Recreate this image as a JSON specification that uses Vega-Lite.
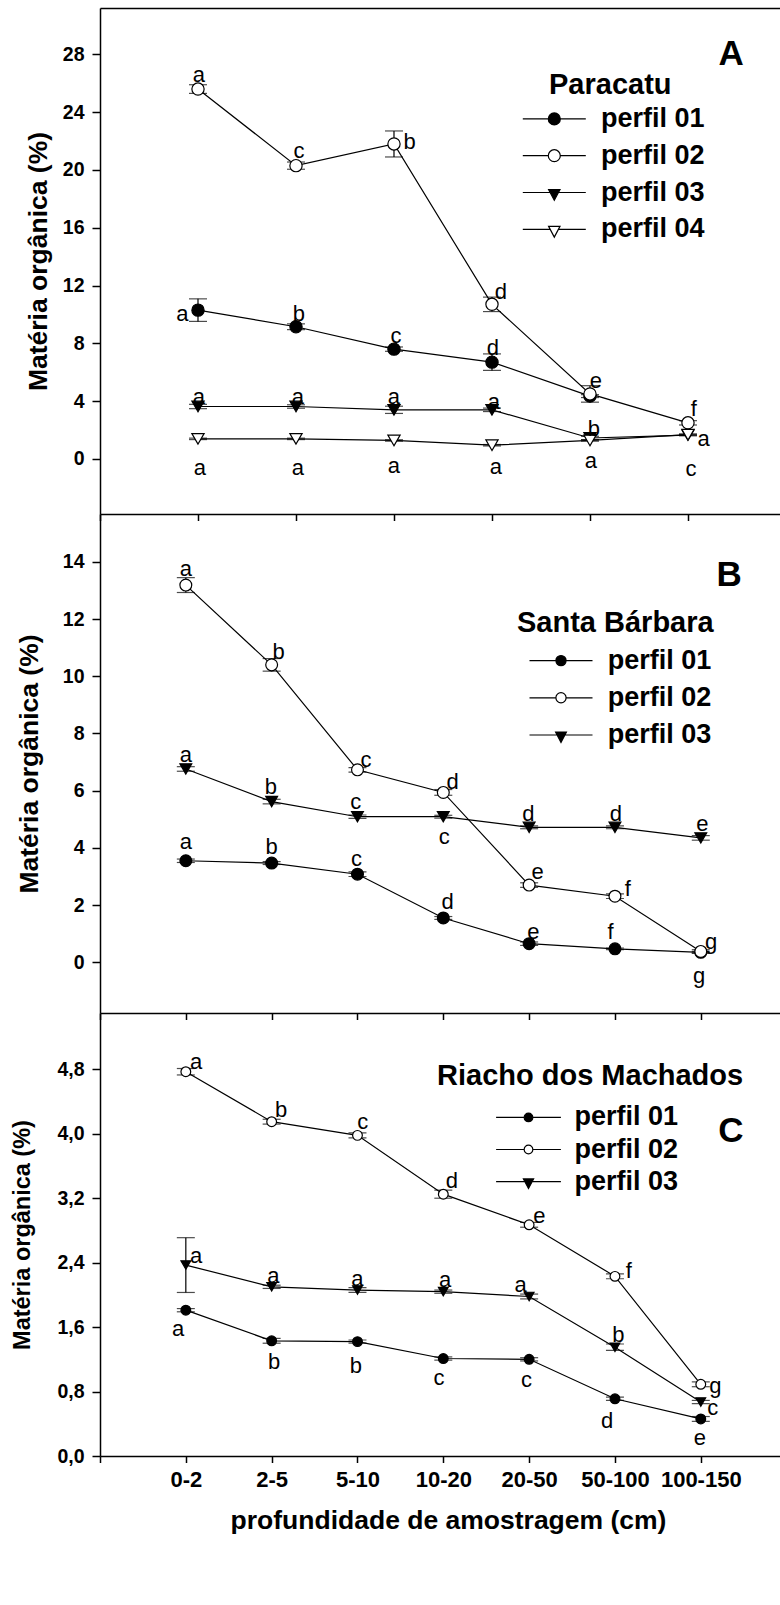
{
  "$schema": "https://vega.github.io/schema/vega-lite/v6.json",
  "background": "white",
  "padding": {"left": 10, "top": 8, "right": 0, "bottom": 0},
  "bounds": "flush",
  "spacing": 0,
  "datasets": {
    "A": [
      {"x": 1, "v": 10.3, "e": 0.78, "s": "perfil 01"},
      {"x": 2, "v": 9.15, "e": 0.2, "s": "perfil 01"},
      {"x": 3, "v": 7.6, "e": 0.15, "s": "perfil 01"},
      {"x": 4, "v": 6.7, "e": 0.57, "s": "perfil 01"},
      {"x": 5, "v": 4.35, "e": 0.1, "s": "perfil 01"},
      {"x": 1, "v": 25.6, "e": 0.3, "s": "perfil 02"},
      {"x": 2, "v": 20.3, "e": 0.25, "s": "perfil 02"},
      {"x": 3, "v": 21.8, "e": 0.9, "s": "perfil 02"},
      {"x": 4, "v": 10.7, "e": 0.5, "s": "perfil 02"},
      {"x": 5, "v": 4.5, "e": 0.57, "s": "perfil 02"},
      {"x": 6, "v": 2.5, "e": 0.15, "s": "perfil 02"},
      {"x": 1, "v": 3.63, "e": 0.15, "s": "perfil 03"},
      {"x": 2, "v": 3.63, "e": 0.12, "s": "perfil 03"},
      {"x": 3, "v": 3.4, "e": 0.25, "s": "perfil 03"},
      {"x": 4, "v": 3.4, "e": 0.12, "s": "perfil 03"},
      {"x": 5, "v": 1.45, "e": 0.12, "s": "perfil 03"},
      {"x": 6, "v": 1.65, "e": 0.05, "s": "perfil 03"},
      {"x": 1, "v": 1.39, "e": 0.05, "s": "perfil 04"},
      {"x": 2, "v": 1.39, "e": 0.05, "s": "perfil 04"},
      {"x": 3, "v": 1.28, "e": 0.05, "s": "perfil 04"},
      {"x": 4, "v": 0.95, "e": 0.05, "s": "perfil 04"},
      {"x": 5, "v": 1.28, "e": 0.05, "s": "perfil 04"},
      {"x": 6, "v": 1.68, "e": 0.05, "s": "perfil 04"}
    ],
    "B": [
      {"x": 1, "v": 3.55, "e": 0.06, "s": "perfil 01"},
      {"x": 2, "v": 3.47, "e": 0.05, "s": "perfil 01"},
      {"x": 3, "v": 3.08, "e": 0.08, "s": "perfil 01"},
      {"x": 4, "v": 1.55, "e": 0.05, "s": "perfil 01"},
      {"x": 5, "v": 0.65, "e": 0.06, "s": "perfil 01"},
      {"x": 6, "v": 0.47, "e": 0.03, "s": "perfil 01"},
      {"x": 7, "v": 0.35, "e": 0.03, "s": "perfil 01"},
      {"x": 1, "v": 13.19, "e": 0.26, "s": "perfil 02"},
      {"x": 2, "v": 10.4, "e": 0.22, "s": "perfil 02"},
      {"x": 3, "v": 6.73, "e": 0.08, "s": "perfil 02"},
      {"x": 4, "v": 5.94, "e": 0.1, "s": "perfil 02"},
      {"x": 5, "v": 2.7, "e": 0.08, "s": "perfil 02"},
      {"x": 6, "v": 2.31, "e": 0.08, "s": "perfil 02"},
      {"x": 7, "v": 0.38, "e": 0.06, "s": "perfil 02"},
      {"x": 1, "v": 6.76, "e": 0.08, "s": "perfil 03"},
      {"x": 2, "v": 5.62, "e": 0.08, "s": "perfil 03"},
      {"x": 3, "v": 5.09, "e": 0.06, "s": "perfil 03"},
      {"x": 4, "v": 5.09, "e": 0.05, "s": "perfil 03"},
      {"x": 5, "v": 4.72, "e": 0.05, "s": "perfil 03"},
      {"x": 6, "v": 4.72, "e": 0.05, "s": "perfil 03"},
      {"x": 7, "v": 4.35, "e": 0.08, "s": "perfil 03"}
    ],
    "C": [
      {"x": 1, "v": 1.81, "e": 0.02, "s": "perfil 01"},
      {"x": 2, "v": 1.43, "e": 0.03, "s": "perfil 01"},
      {"x": 3, "v": 1.42, "e": 0.02, "s": "perfil 01"},
      {"x": 4, "v": 1.21, "e": 0.02, "s": "perfil 01"},
      {"x": 5, "v": 1.2, "e": 0.02, "s": "perfil 01"},
      {"x": 6, "v": 0.71, "e": 0.02, "s": "perfil 01"},
      {"x": 7, "v": 0.46, "e": 0.03, "s": "perfil 01"},
      {"x": 1, "v": 4.77, "e": 0.04, "s": "perfil 02"},
      {"x": 2, "v": 4.15, "e": 0.03, "s": "perfil 02"},
      {"x": 3, "v": 3.98, "e": 0.03, "s": "perfil 02"},
      {"x": 4, "v": 3.25, "e": 0.05, "s": "perfil 02"},
      {"x": 5, "v": 2.87, "e": 0.03, "s": "perfil 02"},
      {"x": 6, "v": 2.23, "e": 0.03, "s": "perfil 02"},
      {"x": 7, "v": 0.89, "e": 0.03, "s": "perfil 02"},
      {"x": 1, "v": 2.37, "e": 0.34, "s": "perfil 03"},
      {"x": 2, "v": 2.1, "e": 0.02, "s": "perfil 03"},
      {"x": 3, "v": 2.06, "e": 0.03, "s": "perfil 03"},
      {"x": 4, "v": 2.04, "e": 0.02, "s": "perfil 03"},
      {"x": 5, "v": 1.98, "e": 0.03, "s": "perfil 03"},
      {"x": 6, "v": 1.35, "e": 0.04, "s": "perfil 03"},
      {"x": 7, "v": 0.67, "e": 0.02, "s": "perfil 03"}
    ],
    "LA": [
      {"x": 1.01, "v": 26.57, "t": "a"}, {"x": 2.03, "v": 21.31, "t": "c"}, {"x": 3.16, "v": 21.94, "t": "b"},
      {"x": 4.09, "v": 11.56, "t": "d"}, {"x": 5.06, "v": 5.4, "t": "e"}, {"x": 6.06, "v": 3.46, "t": "f"},
      {"x": 0.84, "v": 10.03, "t": "a"}, {"x": 2.03, "v": 10.03, "t": "b"}, {"x": 3.02, "v": 8.51, "t": "c"},
      {"x": 4.01, "v": 7.68, "t": "d"},
      {"x": 1.01, "v": 4.29, "t": "a"}, {"x": 2.02, "v": 4.29, "t": "a"}, {"x": 3.0, "v": 4.29, "t": "a"},
      {"x": 4.02, "v": 3.94, "t": "a"}, {"x": 5.04, "v": 2.08, "t": "b"}, {"x": 6.16, "v": 1.38, "t": "a"},
      {"x": 1.02, "v": -0.62, "t": "a"}, {"x": 2.02, "v": -0.62, "t": "a"}, {"x": 3.0, "v": -0.48, "t": "a"},
      {"x": 4.04, "v": -0.55, "t": "a"}, {"x": 5.01, "v": -0.14, "t": "a"}, {"x": 6.03, "v": -0.69, "t": "c"}
    ],
    "LB": [
      {"x": 1.0, "v": 13.75, "t": "a"}, {"x": 2.08, "v": 10.85, "t": "b"}, {"x": 3.1, "v": 7.08, "t": "c"},
      {"x": 4.11, "v": 6.3, "t": "d"}, {"x": 5.1, "v": 3.16, "t": "e"}, {"x": 6.15, "v": 2.56, "t": "f"},
      {"x": 7.12, "v": 0.71, "t": "g"},
      {"x": 1.0, "v": 7.25, "t": "a"}, {"x": 1.99, "v": 6.13, "t": "b"}, {"x": 2.98, "v": 5.6, "t": "c"},
      {"x": 4.01, "v": 4.38, "t": "c"}, {"x": 4.99, "v": 5.19, "t": "d"}, {"x": 6.01, "v": 5.19, "t": "d"},
      {"x": 7.02, "v": 4.84, "t": "e"},
      {"x": 1.0, "v": 4.21, "t": "a"}, {"x": 2.0, "v": 4.03, "t": "b"}, {"x": 2.99, "v": 3.62, "t": "c"},
      {"x": 4.05, "v": 2.11, "t": "d"}, {"x": 5.05, "v": 1.06, "t": "e"}, {"x": 5.95, "v": 1.06, "t": "f"},
      {"x": 6.98, "v": -0.48, "t": "g"}
    ],
    "LC": [
      {"x": 1.12, "v": 4.89, "t": "a"}, {"x": 2.11, "v": 4.29, "t": "b"}, {"x": 3.06, "v": 4.14, "t": "c"},
      {"x": 4.1, "v": 3.41, "t": "d"}, {"x": 5.12, "v": 2.98, "t": "e"}, {"x": 6.16, "v": 2.3, "t": "f"},
      {"x": 7.17, "v": 0.87, "t": "g"},
      {"x": 1.12, "v": 2.48, "t": "a"}, {"x": 2.02, "v": 2.23, "t": "a"}, {"x": 3.0, "v": 2.2, "t": "a"},
      {"x": 4.02, "v": 2.18, "t": "a"}, {"x": 4.9, "v": 2.12, "t": "a"}, {"x": 6.04, "v": 1.5, "t": "b"},
      {"x": 7.14, "v": 0.6, "t": "c"},
      {"x": 0.91, "v": 1.58, "t": "a"}, {"x": 2.03, "v": 1.17, "t": "b"}, {"x": 2.98, "v": 1.12, "t": "b"},
      {"x": 3.95, "v": 0.97, "t": "c"}, {"x": 4.97, "v": 0.94, "t": "c"}, {"x": 5.91, "v": 0.43, "t": "d"},
      {"x": 6.99, "v": 0.22, "t": "e"}
    ],
    "KA": [{"x": 6.44, "v": 28.03, "t": "A"}],
    "KB": [{"x": 7.33, "v": 13.54, "t": "B"}],
    "KC": [{"x": 7.35, "v": 4.03, "t": "C"}]
  },
  "vconcat": [
    {
      "width": 680,
      "height": 506,
      "encoding": {
        "y": {"field": "v", "type": "quantitative",
              "scale": {"domain": [-3.81, 31.21], "nice": false, "zero": false},
              "axis": {"values": [0, 4, 8, 12, 16, 20, 24, 28], "title": "Matéria orgânica (%)", "titleX": -47.3, "titleAngle": 270, "titleBaseline": "bottom", "titleFontSize": 26.5, "labelFontSize": 19.5, "tickSize": 8, "labelPadding": 8}}
      },
      "layer": [
        {
          "encoding": {
            "x": {"field": "x", "type": "quantitative",
                  "scale": {"domain": [0, 6.939], "nice": false, "zero": false},
                  "axis": {"orient": "bottom", "values": [0, 1, 2, 3, 4, 5, 6], "labels": false, "title": null, "tickSize": 6.5}}
          },
          "layer": [
            {"data": {"name": "A"},
             "mark": {"type": "errorbar", "color": "black", "ticks": {"size": 18, "thickness": 1.2}, "rule": {"strokeWidth": 1.2}},
             "encoding": {"yError": {"field": "e"}}},
            {"data": {"name": "A"},
             "mark": {"type": "line", "color": "black", "strokeWidth": 1.2},
             "encoding": {"detail": {"field": "s", "type": "nominal"}}},
            {"data": {"name": "A"},
             "mark": {"type": "point", "filled": true, "size": 150, "stroke": "black", "strokeWidth": 1.2, "opacity": 1},
             "encoding": {
               "shape": {"field": "s", "type": "nominal", "scale": {"domain": ["perfil 01", "perfil 02", "perfil 03", "perfil 04"], "range": ["circle", "circle", "triangle-down", "triangle-down"]}, "legend": null},
               "fill": {"field": "s", "type": "nominal", "scale": {"domain": ["perfil 01", "perfil 02", "perfil 03", "perfil 04"], "range": ["black", "white", "black", "white"]}, "legend": null}
             }},
            {"data": {"values": []},
             "mark": {"type": "point", "filled": true, "stroke": "black", "strokeWidth": 1.2, "opacity": 1},
             "encoding": {
               "shape": {"field": "s", "type": "nominal", "scale": {"domain": ["perfil 01", "perfil 02", "perfil 03", "perfil 04"],
                          "range": ["M-5.25,0L-1,0M1,0L5.25,0M-1,0A1,1,0,1,1,1,0A1,1,0,1,1,-1,0Z", "M-5.25,0L-1,0M1,0L5.25,0M-1,0A1,1,0,1,1,1,0A1,1,0,1,1,-1,0Z", "M-5.25,0L-0.69,0M0.69,0L5.25,0M-0.95,-0.5L0.95,-0.5L0,1.3Z", "M-5.25,0L-0.69,0M0.69,0L5.25,0M-0.95,-0.5L0.95,-0.5L0,1.3Z"]},
                         "legend": {"title": "Paracatu", "orient": "none", "legendX": 449, "legendY": 62.9, "titleAnchor": "start", "titlePadding": 5.5, "rowPadding": 8.8, "labelOffset": 33.2, "symbolOffset": -8.2, "symbolSize": 144, "symbolStrokeWidth": 1.2}},
               "fill": {"field": "s", "type": "nominal", "scale": {"domain": ["perfil 01", "perfil 02", "perfil 03", "perfil 04"], "range": ["black", "white", "black", "white"]},
                        "legend": {"title": "Paracatu", "orient": "none", "legendX": 449, "legendY": 62.9, "titleAnchor": "start", "titlePadding": 5.5, "rowPadding": 8.8, "labelOffset": 33.2, "symbolOffset": -8.2, "symbolSize": 144, "symbolStrokeWidth": 1.2}}
             }},
            {"data": {"name": "LA"},
             "mark": {"type": "text", "fontSize": 22, "align": "center", "baseline": "middle", "color": "black"},
             "encoding": {"text": {"field": "t"}}}
          ],
          "resolve": {"scale": {"shape": "independent", "fill": "independent"}}
        },
        {
          "data": {"name": "KA"},
          "mark": {"type": "text", "fontSize": 35, "fontWeight": "bold", "align": "center", "baseline": "middle", "color": "black"},
          "encoding": {
            "x": {"field": "x", "type": "quantitative", "scale": {"domain": [0, 6.939], "nice": false, "zero": false},
                  "axis": {"orient": "top", "labels": false, "ticks": false, "title": null, "domain": true}},
            "text": {"field": "t"}
          }
        }
      ],
      "resolve": {"scale": {"x": "independent"}}
    },
    {
      "width": 680,
      "height": 499,
      "encoding": {
        "x": {"field": "x", "type": "quantitative",
              "scale": {"domain": [0, 7.923], "nice": false, "zero": false},
              "axis": {"orient": "bottom", "values": [0, 1, 2, 3, 4, 5, 6, 7], "labels": false, "title": null, "tickSize": 6.5}},
        "y": {"field": "v", "type": "quantitative",
              "scale": {"domain": [-1.773, 15.675], "nice": false, "zero": false},
              "axis": {"values": [0, 2, 4, 6, 8, 10, 12, 14], "title": "Matéria orgânica (%)", "titleX": -57, "titleAngle": 270, "titleBaseline": "bottom", "titleFontSize": 26.5, "labelFontSize": 19.5, "tickSize": 8, "labelPadding": 8}}
      },
      "layer": [
        {"data": {"name": "B"},
         "mark": {"type": "errorbar", "color": "black", "ticks": {"size": 18, "thickness": 1.2}, "rule": {"strokeWidth": 1.2}},
         "encoding": {"yError": {"field": "e"}}},
        {"data": {"name": "B"},
         "mark": {"type": "line", "color": "black", "strokeWidth": 1.2},
         "encoding": {"detail": {"field": "s", "type": "nominal"}}},
        {"data": {"name": "B"},
         "mark": {"type": "point", "filled": true, "size": 140, "stroke": "black", "strokeWidth": 1.2, "opacity": 1},
         "encoding": {
           "shape": {"field": "s", "type": "nominal", "scale": {"domain": ["perfil 01", "perfil 02", "perfil 03"], "range": ["circle", "circle", "triangle-down"]}, "legend": null},
           "fill": {"field": "s", "type": "nominal", "scale": {"domain": ["perfil 01", "perfil 02", "perfil 03"], "range": ["black", "white", "black"]}, "legend": null}
         }},
        {"data": {"values": []},
         "mark": {"type": "point", "filled": true, "stroke": "black", "strokeWidth": 1.2, "opacity": 1},
         "encoding": {
           "shape": {"field": "s", "type": "nominal", "scale": {"domain": ["perfil 01", "perfil 02", "perfil 03"],
                      "range": ["M-5.25,0L-0.85,0M0.85,0L5.25,0M-0.85,0A0.85,0.85,0,1,1,0.85,0A0.85,0.85,0,1,1,-0.85,0Z", "M-5.25,0L-0.85,0M0.85,0L5.25,0M-0.85,0A0.85,0.85,0,1,1,0.85,0A0.85,0.85,0,1,1,-0.85,0Z", "M-5.25,0L-0.65,0M0.65,0L5.25,0M-0.9,-0.5L0.9,-0.5L0,1.25Z"]},
                     "legend": {"title": "Santa Bárbara", "orient": "none", "legendX": 417, "legendY": 94.6, "titleAnchor": "start", "titlePadding": 9.5, "rowPadding": 9.2, "labelOffset": 33.2, "symbolOffset": 30.5, "symbolSize": 144, "symbolStrokeWidth": 1.2}},
           "fill": {"field": "s", "type": "nominal", "scale": {"domain": ["perfil 01", "perfil 02", "perfil 03"], "range": ["black", "white", "black"]},
                    "legend": {"title": "Santa Bárbara", "orient": "none", "legendX": 417, "legendY": 94.6, "titleAnchor": "start", "titlePadding": 9.5, "rowPadding": 9.2, "labelOffset": 33.2, "symbolOffset": 30.5, "symbolSize": 144, "symbolStrokeWidth": 1.2}}
         }},
        {"data": {"name": "LB"},
         "mark": {"type": "text", "fontSize": 22, "align": "center", "baseline": "middle", "color": "black"},
         "encoding": {"text": {"field": "t"}}},
        {"data": {"name": "KB"},
         "mark": {"type": "text", "fontSize": 35, "fontWeight": "bold", "align": "center", "baseline": "middle", "color": "black"},
         "encoding": {"text": {"field": "t"}}}
      ],
      "resolve": {"scale": {"shape": "independent", "fill": "independent"}}
    },
    {
      "width": 680,
      "height": 443,
      "encoding": {
        "x": {"field": "x", "type": "quantitative",
              "scale": {"domain": [0, 7.923], "nice": false, "zero": false},
              "axis": {"orient": "bottom", "values": [0, 1, 2, 3, 4, 5, 6, 7],
                       "labelExpr": "['', '0-2', '2-5', '5-10', '10-20', '20-50', '50-100', '100-150'][datum.value]",
                       "title": "profundidade de amostragem (cm)", "titleX": 348, "titleY": 51.4, "titleAlign": "center", "titleBaseline": "top",
                       "titleFontSize": 26.5, "labelFontSize": 22, "tickSize": 6.5, "labelPadding": 6.6}},
        "y": {"field": "v", "type": "quantitative",
              "scale": {"domain": [0, 5.499], "nice": false, "zero": false},
              "axis": {"values": [0, 0.8, 1.6, 2.4, 3.2, 4.0, 4.8], "labelExpr": "replace(format(datum.value, '.1f'), '.', ',')",
                       "title": "Matéria orgânica (%)", "titleX": -65.7, "titleAngle": 270, "titleBaseline": "bottom", "titleFontSize": 23.5, "labelFontSize": 19.5, "tickSize": 8, "labelPadding": 8}}
      },
      "layer": [
        {"data": {"name": "C"},
         "mark": {"type": "errorbar", "color": "black", "ticks": {"size": 18, "thickness": 1.2}, "rule": {"strokeWidth": 1.2}},
         "encoding": {"yError": {"field": "e"}}},
        {"data": {"name": "C"},
         "mark": {"type": "line", "color": "black", "strokeWidth": 1.2},
         "encoding": {"detail": {"field": "s", "type": "nominal"}}},
        {"data": {"name": "C"},
         "mark": {"type": "point", "filled": true, "size": 95, "stroke": "black", "strokeWidth": 1.2, "opacity": 1},
         "encoding": {
           "shape": {"field": "s", "type": "nominal", "scale": {"domain": ["perfil 01", "perfil 02", "perfil 03"], "range": ["circle", "circle", "triangle-down"]}, "legend": null},
           "fill": {"field": "s", "type": "nominal", "scale": {"domain": ["perfil 01", "perfil 02", "perfil 03"], "range": ["black", "white", "black"]}, "legend": null}
         }},
        {"data": {"values": []},
         "mark": {"type": "point", "filled": true, "stroke": "black", "strokeWidth": 1.2, "opacity": 1},
         "encoding": {
           "shape": {"field": "s", "type": "nominal", "scale": {"domain": ["perfil 01", "perfil 02", "perfil 03"],
                      "range": ["M-5.4,0L-0.72,0M0.72,0L5.4,0M-0.72,0A0.72,0.72,0,1,1,0.72,0A0.72,0.72,0,1,1,-0.72,0Z", "M-5.4,0L-0.72,0M0.72,0L5.4,0M-0.72,0A0.72,0.72,0,1,1,0.72,0A0.72,0.72,0,1,1,-0.72,0Z", "M-5.4,0L-0.61,0M0.61,0L5.4,0M-0.85,-0.45L0.85,-0.45L0,1.15Z"]},
                     "legend": {"title": "Riacho dos Machados", "orient": "none", "legendX": 337, "legendY": 48.9, "titleAnchor": "start", "titlePadding": 13, "rowPadding": 4.1, "labelOffset": 32.4, "symbolOffset": 78, "symbolSize": 144, "symbolStrokeWidth": 1.2}},
           "fill": {"field": "s", "type": "nominal", "scale": {"domain": ["perfil 01", "perfil 02", "perfil 03"], "range": ["black", "white", "black"]},
                    "legend": {"title": "Riacho dos Machados", "orient": "none", "legendX": 337, "legendY": 48.9, "titleAnchor": "start", "titlePadding": 13, "rowPadding": 4.1, "labelOffset": 32.4, "symbolOffset": 78, "symbolSize": 144, "symbolStrokeWidth": 1.2}}
         }},
        {"data": {"name": "LC"},
         "mark": {"type": "text", "fontSize": 22, "align": "center", "baseline": "middle", "color": "black"},
         "encoding": {"text": {"field": "t"}}},
        {"data": {"name": "KC"},
         "mark": {"type": "text", "fontSize": 35, "fontWeight": "bold", "align": "center", "baseline": "middle", "color": "black"},
         "encoding": {"text": {"field": "t"}}}
      ],
      "resolve": {"scale": {"shape": "independent", "fill": "independent"}}
    }
  ],
  "resolve": {"scale": {"x": "independent", "y": "independent", "fill": "independent", "shape": "independent"}},
  "config": {
    "font": "Liberation Sans",
    "view": {"stroke": null},
    "axis": {
      "domainColor": "black", "tickColor": "black", "labelColor": "black", "titleColor": "black",
      "grid": false, "domainWidth": 1.5, "tickWidth": 1.5,
      "labelFont": "Liberation Sans", "titleFont": "Liberation Sans",
      "labelFontWeight": "bold", "titleFontWeight": "bold",
      "labelFlush": false, "labelOverlap": false
    },
    "legend": {
      "titleFont": "Liberation Sans", "titleFontSize": 29, "titleFontWeight": "bold", "titleColor": "black", "titleLimit": 0,
      "labelFont": "Liberation Sans", "labelFontSize": 27, "labelFontWeight": "bold", "labelColor": "black", "labelLimit": 0,
      "padding": 0, "direction": "vertical"
    },
    "text": {"font": "Liberation Sans"}
  }
}
